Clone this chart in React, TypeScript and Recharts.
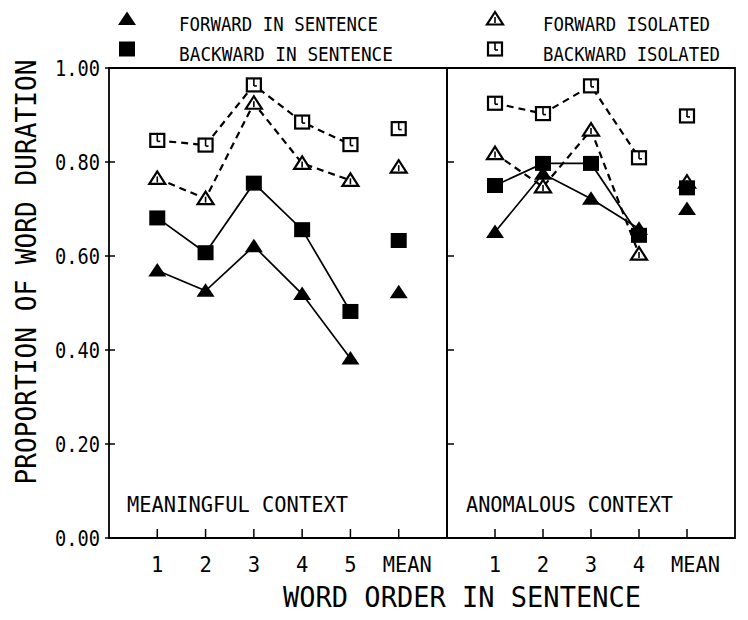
import React from 'react';
import { LineChart, Line, XAxis, YAxis, ReferenceArea } from 'recharts';

const FONT = '"DejaVu Sans Mono", "Liberation Mono", monospace';

// ---- data ----
const leftCategories = ['1', '2', '3', '4', '5', 'MEAN'];
const rightCategories = ['1', '2', '3', '4', 'MEAN'];
const yTicks = [0, 0.2, 0.4, 0.6, 0.8, 1.0];

// Meaningful context (word positions 1-5) + mean
const leftForwardSentence = [0.569, 0.526, 0.621, 0.519, 0.382];
const leftForwardSentenceMean = 0.523;
const leftBackwardSentence = [0.681, 0.607, 0.755, 0.656, 0.482];
const leftBackwardSentenceMean = 0.633;
const leftForwardIsolated = [0.765, 0.722, 0.925, 0.797, 0.761];
const leftForwardIsolatedMean = 0.789;
const leftBackwardIsolated = [0.846, 0.836, 0.964, 0.885, 0.837];
const leftBackwardIsolatedMean = 0.871;

// Anomalous context (word positions 1-4) + mean
const rightForwardSentence = [0.651, 0.775, 0.722, 0.658];
const rightForwardSentenceMean = 0.700;
const rightBackwardSentence = [0.750, 0.797, 0.797, 0.644];
const rightBackwardSentenceMean = 0.745;
const rightForwardIsolated = [0.818, 0.747, 0.868, 0.604];
const rightForwardIsolatedMean = 0.757;
const rightBackwardIsolated = [0.925, 0.903, 0.962, 0.809];
const rightBackwardIsolatedMean = 0.898;

const seriesLabels = {
  fs: 'FORWARD IN SENTENCE',
  bs: 'BACKWARD IN SENTENCE',
  fi: 'FORWARD ISOLATED',
  bi: 'BACKWARD ISOLATED',
};

type Key = 'fs' | 'bs' | 'fi' | 'bi';

function buildRows(categories: string[], words: Record<Key, number[]>, means: Record<Key, number>) {
  return categories.map((c, i) => {
    const row: any = { x: i + 1, label: c };
    (Object.keys(words) as Key[]).forEach((k) => {
      if (c === 'MEAN') {
        row[k] = null;
        row[k + 'Mean'] = means[k];
      } else {
        row[k] = words[k][i];
        row[k + 'Mean'] = null;
      }
    });
    return row;
  });
}

const leftRows = buildRows(
  leftCategories,
  { fs: leftForwardSentence, bs: leftBackwardSentence, fi: leftForwardIsolated, bi: leftBackwardIsolated },
  { fs: leftForwardSentenceMean, bs: leftBackwardSentenceMean, fi: leftForwardIsolatedMean, bi: leftBackwardIsolatedMean }
);
const rightRows = buildRows(
  rightCategories,
  { fs: rightForwardSentence, bs: rightBackwardSentence, fi: rightForwardIsolated, bi: rightBackwardIsolated },
  { fs: rightForwardSentenceMean, bs: rightBackwardSentenceMean, fi: rightForwardIsolatedMean, bi: rightBackwardIsolatedMean }
);

// ---- markers ----
function Marker({ kind, cx, cy }: { kind: Key; cx: number; cy: number }) {
  if (kind === 'fs') {
    return <polygon points={`${cx},${cy - 7.5} ${cx - 9},${cy + 6} ${cx + 9},${cy + 6}`} fill="#000" />;
  }
  if (kind === 'bs') {
    return <rect x={cx - 8} y={cy - 7.5} width={16} height={15} fill="#000" />;
  }
  if (kind === 'fi') {
    return (
      <g>
        <polygon
          points={`${cx},${cy - 7} ${cx - 8},${cy + 5.5} ${cx + 8},${cy + 5.5}`}
          fill="#fff"
          stroke="#000"
          strokeWidth={2.2}
          strokeLinejoin="miter"
        />
        <line x1={cx} y1={cy - 2} x2={cx} y2={cy + 4} stroke="#000" strokeWidth={1.6} />
      </g>
    );
  }
  return (
    <g>
      <rect x={cx - 7} y={cy - 6.5} width={14} height={13} fill="#fff" stroke="#000" strokeWidth={2.2} />
      <line x1={cx} y1={cy - 6} x2={cx} y2={cy + 1} stroke="#000" strokeWidth={1.6} />
      <line x1={cx} y1={cy + 1} x2={cx + 3} y2={cy + 1} stroke="#000" strokeWidth={1.6} />
    </g>
  );
}

const makeDot = (kind: Key) => (props: any) => {
  const { cx, cy, index, value } = props;
  if (cx == null || cy == null || value == null || Number.isNaN(cy)) return <g key={`d-${kind}-${index}`} />;
  return (
    <g key={`d-${kind}-${index}`}>
      <Marker kind={kind} cx={cx} cy={cy} />
    </g>
  );
};

// ---- ticks ----
const LeftYTick = (props: any) => {
  const { x, y, payload } = props;
  return (
    <g>
      <line x1={x - 4} x2={x + 6} y1={y} y2={y} stroke="#000" strokeWidth={1.5} />
      <text
        x={x - 54}
        y={y}
        dy={7.5}
        fontFamily={FONT}
        fontSize={20.5}
        textLength={45}
        lengthAdjust="spacingAndGlyphs"
        fill="#000"
      >
        {Number(payload.value).toFixed(2)}
      </text>
    </g>
  );
};

const RightYTick = (props: any) => {
  const { x, y } = props;
  return <line x1={x} x2={x + 7} y1={y} y2={y} stroke="#000" strokeWidth={1.5} />;
};

const makeXTick = (cats: string[]) => (props: any) => {
  const { x, y, payload } = props;
  const label = cats[payload.value - 1];
  const isWord = label.length > 1;
  return (
    <g>
      <line x1={x} x2={x} y1={y - 9} y2={y} stroke="#000" strokeWidth={1.5} />
      <text
        x={isWord ? x - 16 : x}
        y={y + 34}
        textAnchor={isWord ? 'start' : 'middle'}
        fontFamily={FONT}
        fontSize={20.5}
        textLength={isWord ? 49 : undefined}
        lengthAdjust={isWord ? 'spacingAndGlyphs' : undefined}
        fill="#000"
      >
        {label}
      </text>
    </g>
  );
};

const drawOrder: Key[] = ['bi', 'fi', 'bs', 'fs'];

function seriesLines() {
  const out: any[] = [];
  drawOrder.forEach((k) => {
    const dashed = k === 'fi' || k === 'bi';
    out.push(
      <Line
        key={k}
        dataKey={k}
        name={seriesLabels[k]}
        stroke="#000"
        strokeWidth={dashed ? 2.2 : 1.7}
        strokeDasharray={dashed ? '7 5' : undefined}
        dot={makeDot(k)}
        activeDot={false}
        isAnimationActive={false}
        connectNulls={false}
      />
    );
  });
  drawOrder.forEach((k) => {
    out.push(
      <Line
        key={k + 'Mean'}
        dataKey={k + 'Mean'}
        name={seriesLabels[k] + ' MEAN'}
        stroke="none"
        dot={makeDot(k)}
        activeDot={false}
        isAnimationActive={false}
        legendType="none"
      />
    );
  });
  return out;
}

const legendItems: { key: Key; col: number; row: number; width: number }[] = [
  { key: 'fs', col: 0, row: 0, width: 199 },
  { key: 'bs', col: 0, row: 1, width: 214 },
  { key: 'fi', col: 1, row: 0, width: 167 },
  { key: 'bi', col: 1, row: 1, width: 177 },
];

export default function App() {
  return (
    <div style={{ position: 'absolute', left: 0, top: 0, width: 748, height: 620, background: '#fff' }}>
      <div style={{ position: 'absolute', left: 0, top: 0 }}>
        <LineChart width={460} height={620} data={leftRows} margin={{ top: 68, right: 13, left: 0, bottom: 42 }}>
          <XAxis
            dataKey="x"
            type="number"
            domain={[0, 7]}
            ticks={[1, 2, 3, 4, 5, 6]}
            interval={0}
            axisLine={false}
            tickLine={false}
            tickSize={0}
            tickMargin={0}
            height={40}
            tick={makeXTick(leftCategories)}
          />
          <YAxis
            type="number"
            domain={[0, 1]}
            ticks={yTicks}
            interval={0}
            width={109}
            axisLine={false}
            tickLine={false}
            tickSize={0}
            tickMargin={0}
            tick={LeftYTick}
          />
          <ReferenceArea x1={0} x2={7} y1={0} y2={1} fill="none" stroke="#000" strokeWidth={1.8} />
          {seriesLines()}
        </LineChart>
      </div>
      <div style={{ position: 'absolute', left: 387, top: 0 }}>
        <LineChart width={360} height={620} data={rightRows} margin={{ top: 68, right: 12, left: 0, bottom: 42 }}>
          <XAxis
            dataKey="x"
            type="number"
            domain={[0, 6]}
            ticks={[1, 2, 3, 4, 5]}
            interval={0}
            axisLine={false}
            tickLine={false}
            tickSize={0}
            tickMargin={0}
            height={40}
            tick={makeXTick(rightCategories)}
          />
          <YAxis
            type="number"
            domain={[0, 1]}
            ticks={yTicks.slice(1, 5)}
            interval={0}
            width={60}
            axisLine={false}
            tickLine={false}
            tickSize={0}
            tickMargin={0}
            tick={RightYTick}
          />
          <ReferenceArea x1={0} x2={6} y1={0} y2={1} fill="none" stroke="#000" strokeWidth={1.8} />
          {seriesLines()}
        </LineChart>
      </div>
      <svg
        width={748}
        height={620}
        style={{ position: 'absolute', left: 0, top: 0, pointerEvents: 'none' }}
      >
        {legendItems.map((it) => {
          const mx = it.col === 0 ? 127 : 495;
          const tx = it.col === 0 ? 179 : 543;
          const my = it.row === 0 ? 19 : 49;
          const ty = it.row === 0 ? 31 : 61;
          return (
            <g key={it.key}>
              <Marker kind={it.key} cx={mx} cy={my} />
              <text
                x={tx}
                y={ty}
                fontFamily={FONT}
                fontSize={20}
                textLength={it.width}
                lengthAdjust="spacingAndGlyphs"
                fill="#000"
              >
                {seriesLabels[it.key]}
              </text>
            </g>
          );
        })}
        <text
          x={127}
          y={512}
          fontFamily={FONT}
          fontSize={21}
          textLength={221}
          lengthAdjust="spacingAndGlyphs"
          fill="#000"
        >
          MEANINGFUL CONTEXT
        </text>
        <text
          x={466}
          y={512}
          fontFamily={FONT}
          fontSize={21}
          textLength={207}
          lengthAdjust="spacingAndGlyphs"
          fill="#000"
        >
          ANOMALOUS CONTEXT
        </text>
        <text
          x={462}
          y={607}
          textAnchor="middle"
          fontFamily={FONT}
          fontSize={29}
          textLength={358}
          lengthAdjust="spacingAndGlyphs"
          fill="#000"
        >
          WORD ORDER IN SENTENCE
        </text>
        <text
          x={0}
          y={0}
          transform="translate(36,272) rotate(-90)"
          textAnchor="middle"
          fontFamily={FONT}
          fontSize={29}
          textLength={425}
          lengthAdjust="spacingAndGlyphs"
          fill="#000"
        >
          PROPORTION OF WORD DURATION
        </text>
      </svg>
    </div>
  );
}
